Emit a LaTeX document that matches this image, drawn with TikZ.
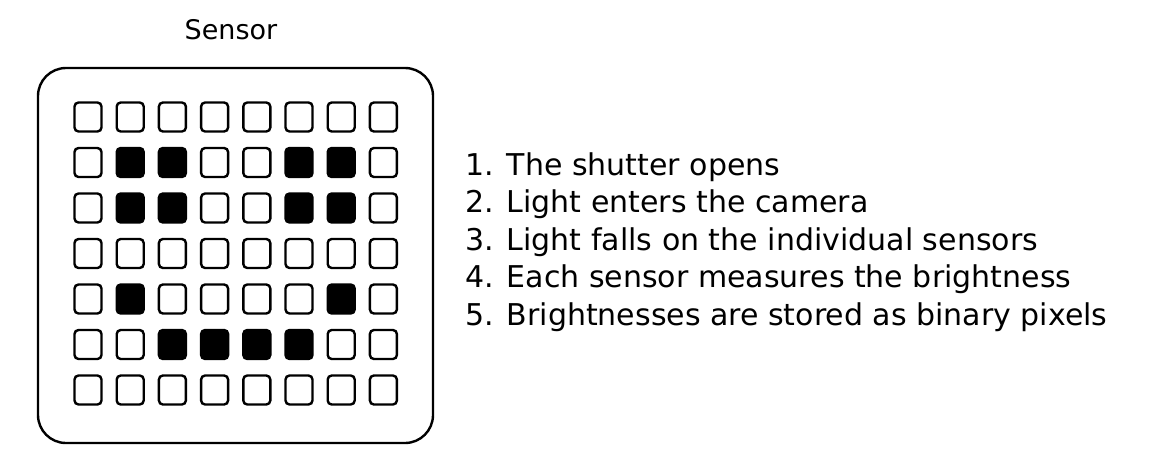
\documentclass[tikz,border=0pt]{standalone}
\usepackage{fontspec}
\setmainfont{DejaVu Sans}
\begin{document}
\begin{tikzpicture}[x=1pt,y=-1pt,
  cell/.style={draw,line width=2.4pt,rounded corners=4pt,minimum width=27pt,minimum height=29pt,inner sep=0pt},
  step label/.style={anchor=base west,font=\fontsize{30}{34}\selectfont}]
  \useasboundingbox (0,0) rectangle (1168,459);
  \node[font=\fontsize{27}{32}\selectfont] (title) at (231,30) {Sensor};
  \draw[line width=2.4pt,rounded corners=28pt] (38,68) rectangle (433,443);
  % sensor cells, 1 = dark
  \foreach \row [count=\r] in {{0,0,0,0,0,0,0,0},{0,1,1,0,0,1,1,0},{0,1,1,0,0,1,1,0},{0,0,0,0,0,0,0,0},{0,1,0,0,0,0,1,0},{0,0,1,1,1,1,0,0},{0,0,0,0,0,0,0,0}}
    \foreach \v [count=\c] in \row {
      \pgfmathtruncatemacro\dark{100*\v}
      \node[cell,fill=black!\dark] (cell-\r-\c) at ({88+(\c-1)*42.2},{117+(\r-1)*45.5}) {};
    }
  \foreach \t [count=\i] in {1. The shutter opens,2. Light enters the camera,3. Light falls on the individual sensors,4. Each sensor measures the brightness,5. Brightnesses are stored as binary pixels}
    \node[step label] (step-\i) at (462,{175+(\i-1)*37.5}) {\t};
\end{tikzpicture}
\end{document}
